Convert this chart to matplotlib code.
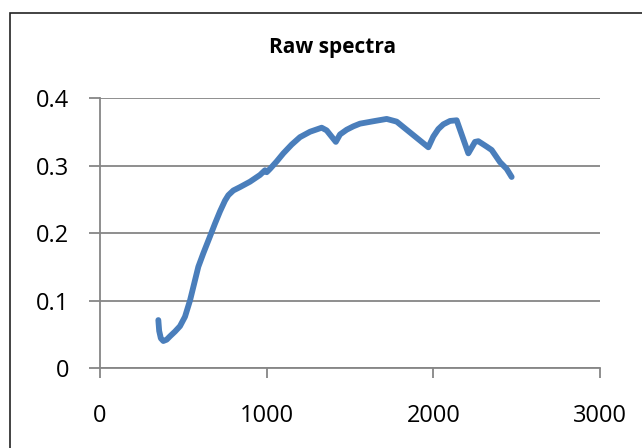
import matplotlib.pyplot as plt
from matplotlib.patches import Rectangle

# wavelength (nm) and reflectance
wavelength = [350, 355, 365, 380, 400, 420, 450, 480, 510, 540, 565, 590, 620,
              660, 690, 720, 750, 770, 800, 840, 900, 960, 990, 1000, 1020,
              1060, 1100, 1150, 1200, 1260, 1330, 1360, 1415, 1440, 1480, 1520,
              1560, 1650, 1720, 1780, 1970, 2000, 2030, 2060, 2100, 2140, 2210,
              2250, 2270, 2320, 2350, 2400, 2440, 2470]
reflectance = [0.071, 0.055, 0.044, 0.040, 0.042, 0.047, 0.054, 0.062, 0.076,
               0.100, 0.125, 0.150, 0.170, 0.195, 0.214, 0.232, 0.248, 0.256,
               0.263, 0.268, 0.276, 0.286, 0.293, 0.290, 0.295, 0.306, 0.318,
               0.331, 0.342, 0.350, 0.356, 0.352, 0.335, 0.346, 0.353, 0.358,
               0.362, 0.366, 0.369, 0.365, 0.327, 0.343, 0.354, 0.361, 0.366,
               0.367, 0.318, 0.335, 0.336, 0.328, 0.323, 0.305, 0.295, 0.283]

y_ticks = [0, 0.1, 0.2, 0.3, 0.4]
x_ticks = [0, 1000, 2000, 3000]

grey = '#868686'

fig = plt.figure(figsize=(6.42, 4.48), dpi=100)
fig.patches.append(Rectangle((10 / 642, -0.1), 1.2, 1.1 - 13 / 448,
                             transform=fig.transFigure, fill=False,
                             edgecolor='#222222', linewidth=1.2))

ax = fig.add_axes([100 / 642, 1 - 368 / 448, 500 / 642, 270 / 448])
ax.plot(wavelength, reflectance, color='#4a7ebb', linewidth=4.2,
        solid_capstyle='round', solid_joinstyle='round')

ax.set_xlim(0, 3000)
ax.set_ylim(0, 0.4)
ax.set_xticks(x_ticks)
ax.set_yticks(y_ticks)
ax.set_xticklabels([str(t) for t in x_ticks])
ax.set_yticklabels(['0', '0.1', '0.2', '0.3', '0.4'])

ax.grid(axis='y', color=grey, linewidth=1.3)
ax.set_axisbelow(True)
for side in ['top', 'right']:
    ax.spines[side].set_visible(False)
for side in ['left', 'bottom']:
    ax.spines[side].set_color(grey)
    ax.spines[side].set_linewidth(1.3)

ax.tick_params(axis='y', length=8, width=1.3, color=grey, pad=14,
               labelsize=17)
ax.tick_params(axis='x', length=7, width=1.3, color=grey, pad=19,
               labelsize=17)
for lab in ax.get_xticklabels() + ax.get_yticklabels():
    lab.set_family('Open Sans')

fig.text(333 / 642, 1 - 48 / 448, 'Raw spectra', ha='center', va='center',
         fontsize=15, fontweight='bold', family='Open Sans')

plt.savefig('out.png')
